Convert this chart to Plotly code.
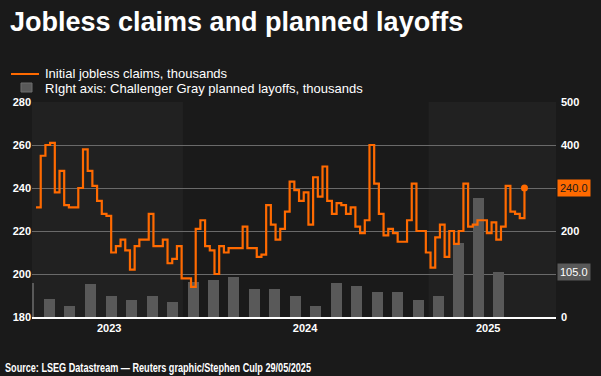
import plotly.graph_objects as go
import pandas as pd

# ---------------- data ----------------
claims_start = "2023-05-27"   # first week-ending date (weekly series)
claims = [
    231, 255, 260, 261, 238, 248, 232, 231, 231, 240, 258, 248, 241, 234, 228, 227, 210, 213, 216, 211,
    202, 213, 216, 216, 228, 213,
    213, 216, 205, 207, 213, 198, 198, 194, 221, 225, 213, 211, 200, 213, 210, 212, 212, 212, 222, 212,
    212, 208, 209, 232, 223, 216, 221, 229,
    243, 239, 234, 238, 223, 245, 236, 250, 234, 228, 233, 232, 228, 231, 222, 219, 225, 260, 242, 228,
    218, 221, 219, 215, 215, 225, 242, 220, 220, 210,
    203, 217, 223, 208, 220, 214, 220, 242, 222, 223, 225, 225, 219, 224, 216, 222, 241, 229, 228, 226, 240,
]
claims_dates = pd.date_range(claims_start, periods=len(claims), freq="7D")

layoff_start = "2023-05-01"   # monthly series
layoffs = [80, 43, 25, 76, 48, 39, 48, 36, 82, 85, 92, 66, 64, 50, 26.5, 78, 73, 57, 59, 40.5,
           50, 173, 276, 105]
layoff_months = pd.date_range(layoff_start, periods=len(layoffs), freq="MS")

year_labels = ["2023", "2024", "2025"]
year_label_dates = ["2023-09-13", "2024-07-01", "2025-03-31"]

right_ticks = [0, 100, 200, 300, 400, 500]
right_tick_text = ["0", "", "200", "", "400", "500"]   # 100 and 300 sit under the value boxes
left_ticks = [180, 200, 220, 240, 260, 280]

title = "Jobless claims and planned layoffs"
legend_1 = "Initial jobless claims, thousands"
legend_2 = "RIght axis: Challenger Gray planned layoffs, thousands"
source = "Source: LSEG Datastream \u2014 Reuters graphic/Stephen Culp 29/05/2025"

# ---------------- style ----------------
W, H = 601, 376
ML, MR, MT, MB = 32, 45, 102, 59
PW, PH = W - ML - MR, H - MT - MB
BG = "#1a1a1a"
BAND = "#212121"
ORANGE = "#ff6a00"
BARC = "#595959"
GRID = "#6a6a6a"
FONT = "Liberation Sans, Arial, sans-serif"


def px(x):
    return (x - ML) / PW


def py(y):
    return (H - MB - y) / PH


fig = go.Figure()

fig.add_trace(go.Bar(
    x=layoff_months, y=layoffs, yaxis="y",
    xperiod="M1", xperiodalignment="middle",
    width=16.4 * 86400000,
    marker=dict(color=BARC, line=dict(width=0)),
    showlegend=False, hoverinfo="skip",
))
fig.add_trace(go.Scatter(
    x=claims_dates, y=claims, yaxis="y2", mode="lines",
    line=dict(color=ORANGE, width=2.2, shape="hv"),
    showlegend=False, hoverinfo="skip",
))
fig.add_trace(go.Scatter(
    x=[claims_dates[-1]], y=[claims[-1]], yaxis="y2", mode="markers",
    marker=dict(color=ORANGE, size=7),
    showlegend=False, hoverinfo="skip",
))

shapes = [
    dict(type="rect", xref="x", yref="paper", x0="2023-05-21", x1="2024-01-01", y0=0, y1=1,
         fillcolor=BAND, line=dict(width=0), layer="below"),
    dict(type="rect", xref="x", yref="paper", x0="2025-01-01", x1="2025-07-10", y0=0, y1=1,
         fillcolor=BAND, line=dict(width=0), layer="below"),
    # legend swatches
    dict(type="line", xref="paper", yref="paper", x0=px(11), x1=px(39), y0=py(74), y1=py(74),
         line=dict(color=ORANGE, width=2)),
    dict(type="rect", xref="paper", yref="paper", x0=px(21), x1=px(32), y0=py(92), y1=py(83),
         fillcolor=BARC, line=dict(color="#6e6e6e", width=1)),
]

annotations = [
    dict(text=legend_1, xref="paper", yref="paper", x=px(43), y=py(74), xanchor="left",
         yanchor="middle", showarrow=False, font=dict(family=FONT, size=13, color="white")),
    dict(text=legend_2, xref="paper", yref="paper", x=px(43), y=py(88), xanchor="left",
         yanchor="middle", showarrow=False, font=dict(family=FONT, size=13, color="white")),
    dict(text=source, xref="paper", yref="paper", x=px(3), y=py(368), xanchor="left",
         yanchor="middle", align="left", showarrow=False,
         font=dict(family=FONT, size=12, color="white", weight="bold")),
    dict(text=f"{claims[-1]:.1f}", xref="paper", yref="y2", x=1, y=claims[-1], xanchor="left",
         yanchor="middle", xshift=1, showarrow=False, bgcolor=ORANGE, borderpad=2,
         font=dict(family=FONT, size=11, color="#1a1a1a")),
    dict(text=f"{layoffs[-1]:.1f}", xref="paper", yref="y", x=1, y=layoffs[-1], xanchor="left",
         yanchor="middle", xshift=1, showarrow=False, bgcolor=BARC, borderpad=2,
         font=dict(family=FONT, size=11, color="white")),
]

tickfont = dict(family=FONT, size=11, color="white", weight="bold")

fig.update_layout(
    width=W, height=H, autosize=False,
    margin=dict(l=ML, r=MR, t=MT, b=MB),
    paper_bgcolor=BG, plot_bgcolor=BG,
    title=dict(text=title, xref="container", yref="container", x=10 / W, y=1 - 22 / H,
               xanchor="left", yanchor="middle",
               font=dict(family=FONT, size=27, color="white", weight="bold")),
    xaxis=dict(type="date", range=["2023-05-21", "2025-07-10"],
               tickvals=year_label_dates, ticktext=year_labels, ticks="",
               showgrid=False, zeroline=False, showline=True, linecolor="white", linewidth=1.5,
               tickfont=tickfont),
    yaxis=dict(side="right", range=[0, 500], tickvals=right_ticks, ticktext=right_tick_text,
               showgrid=True, gridcolor=GRID, gridwidth=1, zeroline=False, ticks="",
               ticklabelstandoff=4, tickfont=tickfont),
    yaxis2=dict(side="left", overlaying="y", range=[180, 280], tickvals=left_ticks,
                showgrid=False, zeroline=False, ticks="", tickfont=tickfont),
    bargap=0,
    shapes=shapes, annotations=annotations,
    showlegend=False,
)

# the source line in the original uses a narrow face: squeeze it to the same width
post = """
document.body.style.margin='0px';
document.body.style.overflow='hidden';
document.querySelectorAll('.annotation-text').forEach(function(t){
  if (t.textContent.indexOf('Source:') === 0) {
    t.setAttribute('textLength', '306');
    t.setAttribute('lengthAdjust', 'spacingAndGlyphs');
  }
});
"""

fig.write_html("out.html", config={"displayModeBar": False, "staticPlot": True}, post_script=post)
